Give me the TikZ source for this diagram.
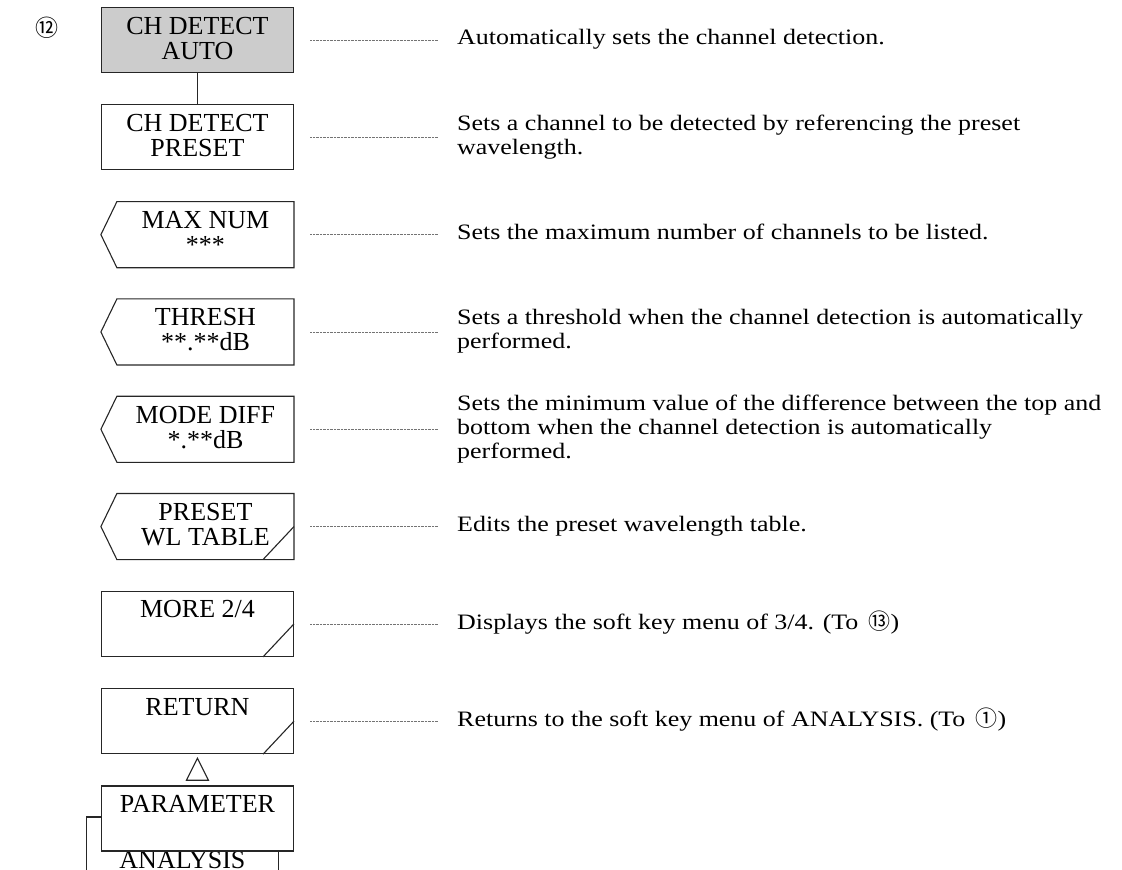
\documentclass[tikz,border=0pt]{standalone}
\usepackage{fontspec}
\setmainfont{Liberation Serif}
\newfontfamily\descfont{Liberation Serif}[FakeStretch=1.18]
\newfontfamily\cjk{Noto Sans CJK JP}
\usetikzlibrary{positioning, backgrounds}
\newcommand{\kstrut}{\vrule height 19pt depth 6pt width 0pt}
\newcommand{\dstrut}{\vrule height 16.8pt depth 7.2pt width 0pt}

\begin{document}
\begin{tikzpicture}[
  x=1pt, y=1pt,
  node distance=31.2pt and 163pt,
  softkey/.style={rectangle, draw=black!85, line width=1.1pt, fill=white,
                  minimum width=192pt, minimum height=65pt, inner sep=0pt,
                  font=\fontsize{26}{25}\selectfont, align=center},
  arrowkey/.style={softkey, draw=none, minimum width=176pt},
  keyline/.style={draw=black!85, line width=1.1pt},
  desc/.style={inner sep=0pt, font=\descfont\fontsize{22}{24}\selectfont, align=left},
  leader/.style={draw=black!55, line width=0.7pt, dash pattern=on 0.7pt off 0.7pt,
                 shorten <=16pt, shorten >=19pt},
]
  \useasboundingbox (0,0) rectangle (1122,-870);

  \node[font=\cjk\fontsize{23}{23}\selectfont] (menuno) at (47,-28) {⑫};

  % soft keys, top to bottom
  \node[softkey, fill=black!20, anchor=north east] (auto) at (294,-7) {\kstrut CH DETECT\\AUTO\kstrut};
  \node[softkey, below=of auto.south east, anchor=north east] (preset) {\kstrut CH DETECT\\PRESET\kstrut};
  \node[arrowkey, below=of preset.south east, anchor=north east] (maxnum) {\kstrut MAX NUM\\{***}\kstrut};
  \node[arrowkey, below=of maxnum.south east, anchor=north east] (thresh) {\kstrut THRESH\\{**.**dB}\kstrut};
  \node[arrowkey, below=of thresh.south east, anchor=north east] (modediff) {\kstrut MODE DIFF\\{*.**dB}\kstrut};
  \node[arrowkey, below=of modediff.south east, anchor=north east] (wltable) {\kstrut PRESET\\WL TABLE\kstrut};
  \node[softkey, below=of wltable.south east, anchor=north east] (more) {\kstrut MORE 2/4\\\kstrut};
  \node[softkey, below=of more.south east, anchor=north east] (return) {\kstrut RETURN\\\kstrut};
  \node[softkey, below=of return.south east, anchor=north east] (param) {\kstrut PARAMETER\\\kstrut};
  \begin{scope}[on background layer]
    \node[softkey, minimum height=62pt] (analysis) at ([xshift=-15pt, yshift=-29.5pt]param.center) {\kstrut\\ANALYSIS\vrule height 0pt depth 3pt width 0pt};
  \end{scope}

  % key outlines and marks
  \foreach \k in {maxnum, thresh, modediff, wltable}
    \draw[keyline] (\k.north west) -- (\k.north east) -- (\k.south east)
      -- (\k.south west) -- ([xshift=-16pt]\k.west) -- cycle;
  \foreach \k in {wltable, more, return}
    \draw[keyline] ([xshift=-31pt]\k.south east) -- (\k.east);
  \draw[keyline] (auto) -- (preset);
  \draw[keyline, fill=white] ([yshift=-4pt]return.south) -- ++(11,-22) -- ++(-22,0) -- cycle;

  % descriptions
  \node[desc, right=of auto] (auto-d) {\dstrut Automatically sets the channel detection.};
  \node[desc, right=of preset] (preset-d) {\dstrut Sets a channel to be detected by referencing the preset\\wavelength.\dstrut};
  \node[desc, right=of maxnum] (maxnum-d) {\dstrut Sets the maximum number of channels to be listed.};
  \node[desc, right=of thresh] (thresh-d) {\dstrut Sets a threshold when the channel detection is automatically\\performed.\dstrut};
  \node[desc, right=of modediff] (modediff-d) {\dstrut Sets the minimum value of the difference between the top and\\bottom when the channel detection is automatically\\performed.\dstrut};
  \node[desc, right=of wltable] (wltable-d) {\dstrut Edits the preset wavelength table.};
  \node[desc, right=of more] (more-d) {\dstrut Displays the soft key menu of 3/4. (To~\,{\cjk ⑬})};
  \node[desc, right=of return] (return-d) {\dstrut Returns to the soft key menu of ANALYSIS. (To~\,{\cjk ①})};

  \foreach \k in {auto, preset, maxnum, thresh, modediff, wltable, more, return}
    \draw[leader] (\k) -- (\k-d);
\end{tikzpicture}
\end{document}
